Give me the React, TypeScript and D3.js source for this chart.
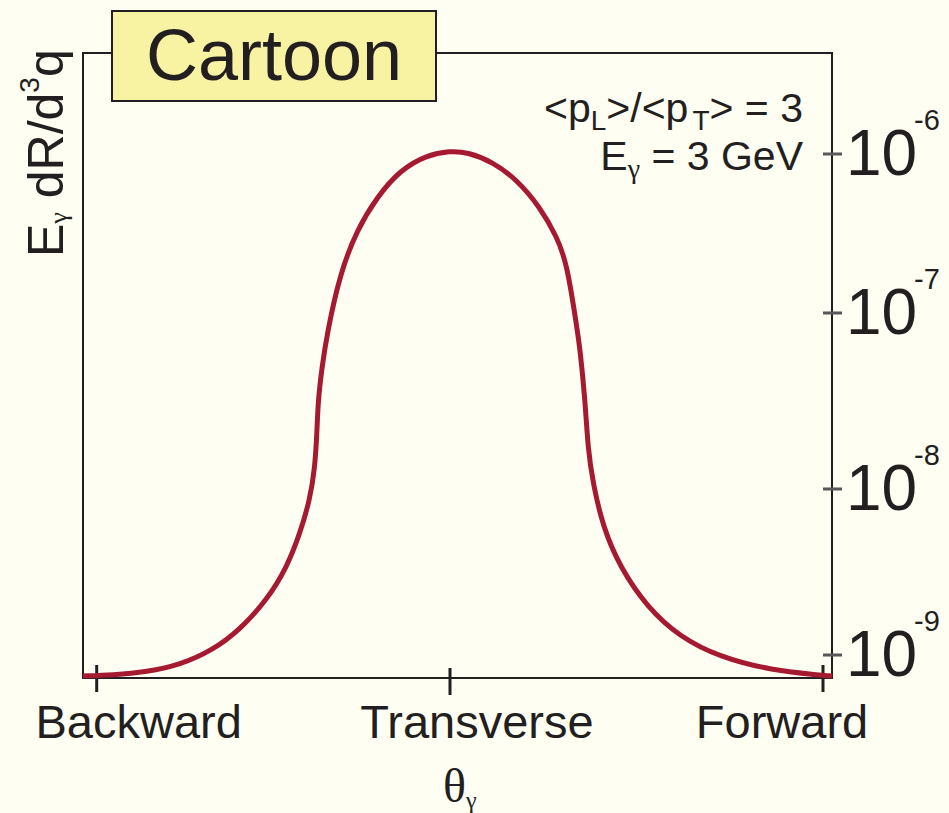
import React from "react";
import * as d3 from "d3";

// Angular categories along the photon emission angle
const CATEGORIES = ["Backward", "Transverse", "Forward"];
const CATEGORY_ANGLES = [180, 90, 0];

// Decades shown on the right-hand log axis (powers of ten)
const DECADES = [-9, -8, -7, -6];

// Cartoon spectrum: emission angle (deg) and rate E dR/d^3q
const THETA = [
  183.5, 175.9, 167.2, 158.8, 150.4, 143.5, 136.6, 131.5, 128.2, 125.7,
  124.4, 123.9, 123.6, 122.6, 121.3, 118.0, 113.7, 108.6, 102.7, 95.9,
  90.0, 85.9, 79.6, 73.8, 68.3, 64.2, 61.8, 59.4, 58.6,
  57.4, 56.7, 55.5, 53.1, 49.0, 42.5, 34.5, 24.9, 12.8, 0.7, -2.2,
];
const RATE = [
  7.47e-10, 7.57e-10, 7.9e-10, 8.71e-10, 1.07e-9, 1.42e-9, 2.15e-9, 3.39e-9, 5.43e-9, 8.59e-9,
  1.33e-8, 2.08e-8, 3.2e-8, 4.93e-8, 7.7e-8, 1.78e-7, 3.33e-7, 5.36e-7, 7.93e-7, 9.86e-7,
  1.044e-6, 1.029e-6, 8.91e-7, 6.86e-7, 4.64e-7, 3.01e-7, 2.06e-7, 8.33e-8, 6.16e-8,
  3.2e-8, 1.67e-8, 1.08e-8, 5.9e-9, 3.39e-9, 1.95e-9, 1.28e-9, 9.72e-10, 8.12e-10, 7.57e-10, 7.47e-10,
];

const W = 949;
const H = 813;
const FRAME = { left: 83, right: 832, top: 53, bottom: 678 };
const INK = "#231f20";
const CURVE = "#a51a30";
const FONT = "'Liberation Sans', Arial, Helvetica, sans-serif";
const SERIF = "'Liberation Serif', 'Times New Roman', serif";
const LABEL_SHIFT = [42, 27, -41];

export default function App() {
  const x = d3.scaleLinear().domain(CATEGORY_ANGLES).range([96.7, 450, 823]);
  const y = d3
    .scaleLog()
    .domain(DECADES.map((e) => Math.pow(10, e)))
    .range([655, 489, 313, 154]);

  const pts: [number, number][] = THETA.map((t, i) => [x(t), y(RATE[i])]);
  const path = d3.line().curve(d3.curveBasis)(pts) || "";

  return (
    <svg
      width={W}
      height={H}
      style={{ position: "absolute", left: 0, top: 0, background: "#fefef2" }}
      fontFamily={FONT}
    >
      <rect x={0} y={0} width={W} height={H} fill="#fefef2" />

      {/* plot frame */}
      <rect
        x={FRAME.left}
        y={FRAME.top}
        width={FRAME.right - FRAME.left}
        height={FRAME.bottom - FRAME.top}
        fill="none"
        stroke={INK}
        strokeWidth={2}
      />

      {/* right-hand log axis */}
      {DECADES.map((e) => {
        const yy = y(Math.pow(10, e));
        return (
          <g key={e}>
            <line x1={823} x2={842} y1={yy} y2={yy} stroke="#59595b" strokeWidth={3} />
            <text x={846} y={yy + 21} fontSize={64} fill={INK}>
              10
            </text>
            <text x={914} y={yy - 24} fontSize={29} fill={INK}>
              {"-" + Math.abs(e)}
            </text>
          </g>
        );
      })}

      {/* bottom angular ticks */}
      {CATEGORY_ANGLES.map((a, i) => {
        const xx = x(a);
        const mid = i === 1;
        return (
          <g key={a}>
            <line
              x1={xx}
              x2={xx}
              y1={mid ? 668 : 665}
              y2={mid ? 695 : 692}
              stroke={INK}
              strokeWidth={3}
            />
            <text
              x={xx + LABEL_SHIFT[i]}
              y={738}
              fontSize={47}
              textAnchor="middle"
              fill={INK}
            >
              {CATEGORIES[i]}
            </text>
          </g>
        );
      })}

      {/* spectrum */}
      <path d={path} fill="none" stroke={CURVE} strokeWidth={5} strokeLinejoin="round" />

      {/* title box */}
      <rect x={112} y={11} width={324} height={90} fill="#f8f3a2" stroke={INK} strokeWidth={2} />
      <text x={274} y={80} fontSize={72} textAnchor="middle" fill={INK}>
        Cartoon
      </text>

      {/* parameters */}
      <text x={803} y={122} fontSize={41} textAnchor="end" fill={INK}>
        {"<p"}
        <tspan fontSize={28} dy={8}>L</tspan>
        <tspan dy={-8}>{">/<p"}</tspan>
        <tspan fontSize={28} dy={8} dx={4}>T</tspan>
        <tspan dy={-8}>{"> = 3"}</tspan>
      </text>
      <text x={803} y={170} fontSize={41} textAnchor="end" fill={INK}>
        E
        <tspan fontSize={28} dy={8} fontFamily={SERIF}>γ</tspan>
        <tspan dy={-8}>{" = 3 GeV"}</tspan>
      </text>

      {/* y-axis title */}
      <text
        transform="translate(63,257) rotate(-90)"
        fontSize={50}
        fill={INK}
      >
        E
        <tspan fontSize={26} dy={4} fontFamily={SERIF}>γ</tspan>
        <tspan dy={-4}>{" dR/d"}</tspan>
        <tspan fontSize={28} dy={-24}>3</tspan>
        <tspan dy={24}>q</tspan>
      </text>

      {/* x-axis title */}
      <text x={443} y={802} fontSize={48} fontFamily={SERIF} fill={INK}>
        θ
        <tspan fontSize={24} dy={6}>γ</tspan>
      </text>
    </svg>
  );
}
